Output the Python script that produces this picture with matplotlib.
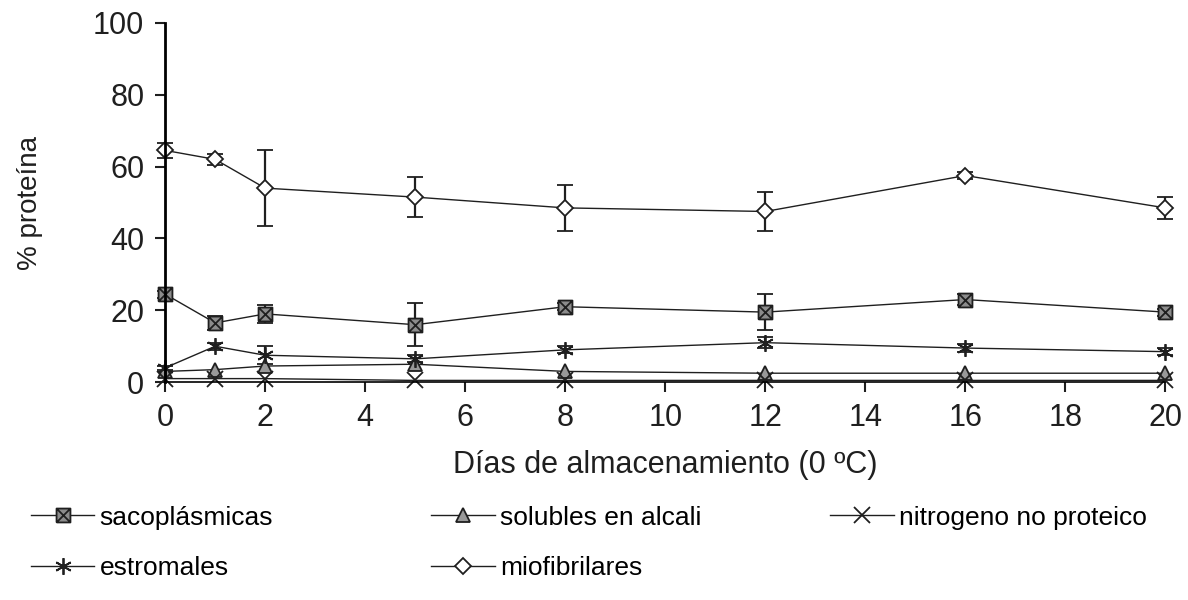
import matplotlib
matplotlib.use("Agg")
from matplotlib import pyplot as plt
from matplotlib.path import Path
import numpy as np

# storage days
dias = [0, 1, 2, 5, 8, 12, 16, 20]

# % protein per fraction
sacoplasmicas = [24.5, 16.5, 19, 16, 21, 19.5, 23, 19.5]
sacoplasmicas_err = [1, 2, 2.5, 6, 1, 5, 1.5, 1]
solubles = [3, 3.5, 4.5, 5, 3, 2.5, 2.5, 2.5]
nitrogeno = [1, 1, 1, 0.5, 0.5, 0.5, 0.5, 0.5]
estromales = [4, 10, 7.5, 6.5, 9, 11, 9.5, 8.5]
estromales_err = [0.5, 1, 2.5, 1, 1, 1.5, 1, 1]
miofibrilares = [64.5, 62, 54, 51.5, 48.5, 47.5, 57.5, 48.5]
miofibrilares_err = [2, 1.5, 10.5, 5.5, 6.5, 5.5, 1, 3]

xticks = [0, 2, 4, 6, 8, 10, 12, 14, 16, 18, 20]
yticks = [0, 20, 40, 60, 80, 100]

plt.rcParams['font.family'] = ['Liberation Sans', 'DejaVu Sans']

# square with a cross inside
sq_x = Path([(-1, -1), (1, -1), (1, 1), (-1, 1), (-1, -1), (-1, -1), (1, 1), (-1, 1), (1, -1)],
            [Path.MOVETO, Path.LINETO, Path.LINETO, Path.LINETO, Path.LINETO,
             Path.MOVETO, Path.LINETO, Path.MOVETO, Path.LINETO])

fig = plt.figure(figsize=(11.88, 6.0), dpi=100)
ax = fig.add_axes([0.139, 0.363, 0.842, 0.599])

col = '0.12'
common = dict(color=col, linewidth=1.0, elinewidth=1.6, capsize=6, capthick=1.2,
              clip_on=False, markeredgecolor=col, markeredgewidth=1.3)

h1 = ax.errorbar(dias, sacoplasmicas, yerr=sacoplasmicas_err, marker=sq_x, markersize=10,
                 markerfacecolor='0.55', label='sacoplásmicas', **common)
h2 = ax.errorbar(dias, solubles, marker='^', markersize=10, markerfacecolor='0.6',
                 label='solubles en alcali', **common)
h3 = ax.errorbar(dias, nitrogeno, marker='x', markersize=11,
                 label='nitrogeno no proteico', **common)
h4 = ax.errorbar(dias, estromales, yerr=estromales_err, marker=(6, 2, 0), markersize=12,
                 label='estromales', **common)
h5 = ax.errorbar(dias, miofibrilares, yerr=miofibrilares_err, marker='D', markersize=8,
                 markerfacecolor='white', label='miofibrilares', **common)

ax.set_xlim(0, 20)
ax.set_ylim(0, 100)
ax.set_xticks(xticks)
ax.set_yticks(yticks)
ax.spines['top'].set_visible(False)
ax.spines['right'].set_visible(False)
ax.spines['left'].set_linewidth(2)
ax.spines['bottom'].set_linewidth(1.2)
ax.tick_params(axis='both', labelsize=22, colors='0.12', length=7, width=1.5, pad=8)
ax.set_xlabel('Días de almacenamiento (0 ºC)', fontsize=22, labelpad=12, color='0.12')
ax.set_ylabel('% proteína', fontsize=20, labelpad=36, color='0.12')

# legend laid out in three columns below the axes
leg_kw = dict(frameon=False, fontsize=19, handlelength=2.4, handletextpad=0.2,
              labelspacing=1.0, loc='upper left')
fig.legend([h1[0], h4[0]], ['sacoplásmicas', 'estromales'],
           bbox_to_anchor=(0.006, 0.197), **leg_kw)
fig.legend([h2[0], h5[0]], ['solubles en alcali', 'miofibrilares'],
           bbox_to_anchor=(0.343, 0.197), **leg_kw)
fig.legend([h3[0]], ['nitrogeno no proteico'],
           bbox_to_anchor=(0.679, 0.197), **leg_kw)

plt.savefig('out.png', dpi=100)
